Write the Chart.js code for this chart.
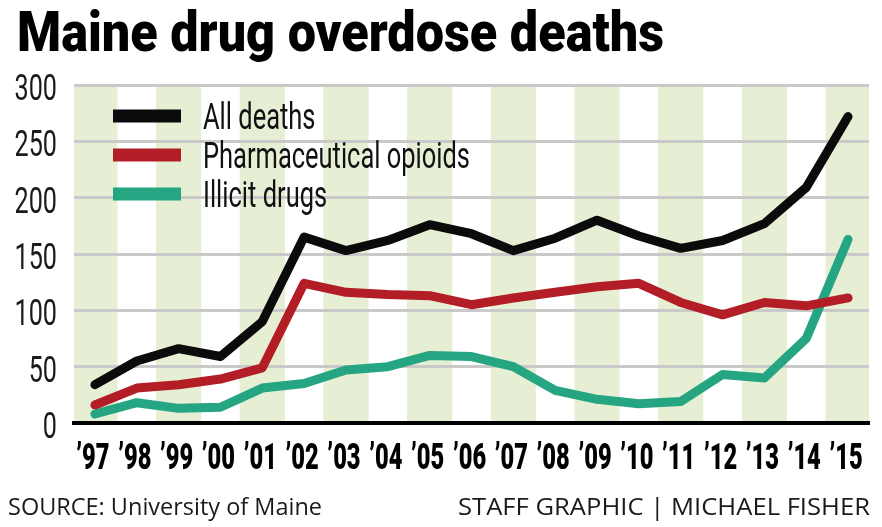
<!DOCTYPE html>
<html>
<head>
<meta charset="utf-8">
<script src="https://cdn.jsdelivr.net/npm/chart.js@4/dist/chart.umd.min.js"></script>
<style>
  html, body { margin: 0; padding: 0; background: #fff; }
  #wrap { position: relative; width: 882px; height: 527px; overflow: hidden; }
  #chart { position: absolute; left: 0; top: 0; }
  .title { position: absolute; left: 17px; top: 4px; line-height: 1; white-space: nowrap;
    font-family: Roboto, sans-serif; font-weight: 900; font-size: 56px; color: #000;
    transform-origin: 0 0; }
  .foot { position: absolute; top: 495px; line-height: 1; white-space: nowrap;
    font-family: "Open Sans", sans-serif; font-size: 23px; color: #1a1a1a; }
  #srcL { left: 8px; transform-origin: 0 0; }
  #srcR { right: 12px; transform-origin: 100% 0; }
</style>
</head>
<body>
<div id="wrap">
  <canvas id="chart" width="882" height="527"></canvas>
  <div class="title" id="title">Maine drug overdose deaths</div>
  <div class="foot" id="srcL">SOURCE: University of Maine</div>
  <div class="foot" id="srcR">STAFF GRAPHIC | MICHAEL FISHER</div>
</div>
<script>
var years = ["’97","’98","’99","’00","’01","’02","’03","’04","’05","’06","’07","’08","’09","’10","’11","’12","’13","’14","’15"];
var allDeaths = [34, 55, 66, 59, 90, 165, 153, 162, 176, 168, 153, 164, 180, 166, 155, 162, 177, 209, 272];
var pharmaOpioids = [16, 31, 34, 39, 49, 124, 116, 114, 113, 105, 111, 116, 121, 124, 107, 96, 107, 104, 111];
var illicitDrugs = [8, 18, 13, 14, 31, 35, 47, 50, 60, 59, 50, 29, 21, 17, 19, 43, 40, 75, 163];
var yTicks = [0, 50, 100, 150, 200, 250, 300];

// squeeze/stretch html text to the width it has in print
function fitWidth(id, w) {
  var el = document.getElementById(id);
  el.style.transform = 'scaleX(' + (w / el.getBoundingClientRect().width) + ')';
}
fitWidth('title', 647);
fitWidth('srcL', 314);
fitWidth('srcR', 412);

// light green column behind every other year, drawn under the grid
var bandsPlugin = {
  id: 'bands',
  beforeDraw: function(chart) {
    var ctx = chart.ctx, x = chart.scales.x, area = chart.chartArea;
    var step = x.getPixelForValue(1) - x.getPixelForValue(0);
    ctx.save();
    ctx.beginPath();
    ctx.rect(area.left, area.top, area.right - area.left, area.bottom - area.top);
    ctx.clip();
    ctx.fillStyle = '#e6eed4';
    for (var i = 0; i < years.length; i += 2) {
      var c = x.getPixelForValue(i);
      var w = step * 1.08;
      ctx.fillRect(c - w / 2, area.top, w, area.bottom - area.top);
    }
    ctx.restore();
  }
};

// condensed tick labels (no narrow font installed, so scale horizontally)
function squeezedText(ctx, text, x, y, sx, align) {
  ctx.save();
  ctx.translate(x, y);
  ctx.scale(sx, 1);
  ctx.textAlign = align;
  ctx.fillText(text, 0, 0);
  ctx.restore();
}

var tickLabelsPlugin = {
  id: 'tickLabels',
  afterDraw: function(chart) {
    var ctx = chart.ctx, x = chart.scales.x, y = chart.scales.y, area = chart.chartArea;
    ctx.save();
    ctx.textBaseline = 'alphabetic';
    ctx.fillStyle = '#1a1a1a';
    ctx.font = '37px Roboto, sans-serif';
    y.ticks.forEach(function(tk) {
      squeezedText(ctx, String(tk.value), area.left - 17, y.getPixelForValue(tk.value) + 15, 0.68, 'right');
    });
    ctx.fillStyle = '#000';
    ctx.font = '900 37px Roboto, sans-serif';
    years.forEach(function(lab, i) {
      squeezedText(ctx, lab, x.getPixelForValue(i) - 2, area.bottom + 46, 0.64, 'center');
    });
    ctx.restore();
  }
};

// legend inside the plot, top left
var legendPlugin = {
  id: 'insideLegend',
  afterDraw: function(chart) {
    var ctx = chart.ctx, area = chart.chartArea;
    var x0 = area.left + 39, y0 = area.top + 31, gap = 39;
    ctx.save();
    ctx.font = '36px Roboto, sans-serif';
    var sx = 267 / ctx.measureText("Pharmaceutical opioids").width;
    chart.data.datasets.forEach(function(ds, i) {
      var yy = y0 + i * gap;
      ctx.strokeStyle = ds.borderColor;
      ctx.lineWidth = 13;
      ctx.lineCap = 'butt';
      ctx.beginPath();
      ctx.moveTo(x0, yy);
      ctx.lineTo(x0 + 68, yy);
      ctx.stroke();
      ctx.fillStyle = '#111';
      ctx.textBaseline = 'alphabetic';
      squeezedText(ctx, ds.label, x0 + 90, yy + 13, sx, 'left');
    });
    ctx.restore();
  }
};

function lineSet(label, data, color) {
  return {
    label: label,
    data: data,
    borderColor: color,
    backgroundColor: color,
    borderWidth: 9,
    tension: 0,
    pointRadius: 0,
    borderJoinStyle: 'round',
    borderCapStyle: 'round',
    fill: false
  };
}

new Chart(document.getElementById('chart'), {
  type: 'line',
  data: {
    labels: years,
    datasets: [
      lineSet("All deaths", allDeaths, '#0b0b0b'),
      lineSet("Pharmaceutical opioids", pharmaOpioids, '#b21d26'),
      lineSet("Illicit drugs", illicitDrugs, '#25a582')
    ]
  },
  options: {
    responsive: false,
    animation: false,
    devicePixelRatio: 1,
    layout: { padding: { top: 85, right: 13, left: 0, bottom: 0 } },
    plugins: { legend: { display: false }, tooltip: { enabled: false } },
    scales: {
      x: {
        offset: true,
        grid: { display: false, drawTicks: false },
        border: { display: true, color: '#000', width: 4 },
        ticks: { display: false, autoSkip: false },
        afterFit: function(scale) { scale.height = 104; }
      },
      y: {
        min: 0, max: 300,
        afterBuildTicks: function(scale) {
          scale.ticks = yTicks.map(function(v) { return { value: v }; });
        },
        grid: {
          drawTicks: false,
          lineWidth: 3,
          color: function(c) { return c.tick && c.tick.value === 0 ? 'rgba(0,0,0,0)' : '#c9c9c9'; }
        },
        border: { display: false },
        ticks: { display: false },
        afterFit: function(scale) { scale.width = 74; }
      }
    }
  },
  plugins: [bandsPlugin, tickLabelsPlugin, legendPlugin]
});
</script>
</body>
</html>
